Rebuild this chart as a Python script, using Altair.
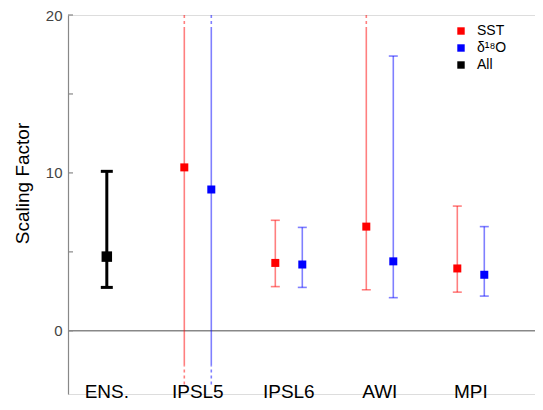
import altair as alt
import pandas as pd

# ---- data ----
groups = ["ENS.", "IPSL5", "IPSL5", "IPSL6", "IPSL6", "AWI", "AWI", "MPI", "MPI"]
series = ["All", "SST", "δ¹⁸O", "SST", "δ¹⁸O", "SST", "δ¹⁸O", "SST", "δ¹⁸O"]
best = [4.7, 10.35, 8.95, 4.3, 4.2, 6.6, 4.4, 3.95, 3.55]
# None = interval runs off the plotted range (drawn as a dashed continuation)
lower = [2.75, None, None, 2.8, 2.75, 2.6, 2.1, 2.45, 2.2]
upper = [10.1, None, None, 7.0, 6.55, None, 17.4, 7.9, 6.6]

group_order = ["ENS.", "IPSL5", "IPSL6", "AWI", "MPI"]
series_order = ["SST", "δ¹⁸O", "All"]
offset_order = ["SST", "All", "δ¹⁸O"]
colors = ["#ff0000", "#0000ff", "#000000"]
y_ticks_labelled = [0, 10, 20]
y_ticks_all = [0, 5, 10, 15, 20]

Y_MIN, Y_MAX = -4, 20
TOP_BREAK, TOP_END = 19.05, 20.0
BOT_BREAK, BOT_END = -2.2, -3.4

W, H = 467, 379
FONT = "Liberation Sans"

# ---- tables built from the arrays ----
pts = pd.DataFrame({"group": groups, "series": series, "value": best})

seg_rows, dash_rows, cap_rows = [], [], []
for g, s, lo, hi in zip(groups, series, lower, upper):
    lo_s = lo if lo is not None else BOT_BREAK
    hi_s = hi if hi is not None else TOP_BREAK
    seg_rows.append({"group": g, "series": s, "lo": lo_s, "hi": hi_s})
    if lo is None:
        dash_rows.append({"group": g, "series": s, "lo": BOT_END, "hi": BOT_BREAK})
    else:
        cap_rows.append({"group": g, "series": s, "value": lo})
    if hi is None:
        dash_rows.append({"group": g, "series": s, "lo": TOP_BREAK, "hi": TOP_END})
    else:
        cap_rows.append({"group": g, "series": s, "value": hi})

segs = pd.DataFrame(seg_rows)
dashes = pd.DataFrame(dash_rows)
caps = pd.DataFrame(cap_rows)

x_enc = alt.X(
    "group:N",
    scale=alt.Scale(domain=group_order, paddingInner=0.3, paddingOuter=0.216, align=0.177),
    axis=alt.Axis(title=None, ticks=False, domain=False, labelAngle=0,
                  labelFontSize=19, labelColor="#000000", labelPadding=-12, labelFont=FONT),
)
xo_enc = alt.XOffset("series:N", scale=alt.Scale(domain=offset_order, paddingInner=0, paddingOuter=0.86))
y_scale = alt.Scale(domain=[Y_MIN, Y_MAX], nice=False, zero=False)
y_axis = alt.Axis(values=y_ticks_labelled, ticks=False, title="Scaling Factor",
                  titleFontSize=19, titleFontWeight="normal", titleColor="#000000",
                  titleX=-36, titleY=168, labelFontSize=15, labelColor="#444444", labelPadding=6,
                  domainColor="#888888", domainWidth=1.2, grid=False, labelFont=FONT, titleFont=FONT)
color_enc = alt.Color(
    "series:N", scale=alt.Scale(domain=series_order, range=colors),
    legend=alt.Legend(orient="none", legendX=386, legendY=9, title=None,
                      symbolType="square", symbolSize=55, symbolStrokeWidth=0,
                      symbolOpacity=1, labelFontSize=14, labelFont=FONT, labelColor="#000000",
                      rowPadding=3, labelOffset=9, padding=0),
)

is_ens = "datum.series == 'All'"
not_ens = "datum.series != 'All'"

zero_line = alt.Chart(pd.DataFrame({"v": [0]})).mark_rule(color="#888888", strokeWidth=1.5).encode(
    y=alt.Y("v:Q", scale=y_scale, axis=y_axis), x=alt.value(0), x2=alt.value(W)
)
yticks = alt.Chart(pd.DataFrame({"v": y_ticks_all})).mark_rule(color="#888888", strokeWidth=1.2).encode(
    y=alt.Y("v:Q", scale=y_scale, axis=y_axis), x=alt.value(0), x2=alt.value(5)
)

bars = alt.Chart(segs).transform_filter(not_ens).mark_rule(strokeWidth=1.6, opacity=0.5).encode(
    x=x_enc, xOffset=xo_enc, y=alt.Y("lo:Q", scale=y_scale, axis=y_axis), y2="hi:Q", color=color_enc
)
bars_ens = alt.Chart(segs).transform_filter(is_ens).mark_rule(strokeWidth=3, opacity=1).encode(
    x=x_enc, xOffset=xo_enc, y=alt.Y("lo:Q", scale=y_scale, axis=y_axis), y2="hi:Q", color=color_enc
)
dash = alt.Chart(dashes).mark_rule(strokeWidth=1.6, opacity=0.5, strokeDash=[3, 3]).encode(
    x=x_enc, xOffset=xo_enc, y=alt.Y("lo:Q", scale=y_scale, axis=y_axis), y2="hi:Q", color=color_enc
)
cap = alt.Chart(caps).transform_filter(not_ens).mark_tick(thickness=1.6, size=9, opacity=0.5).encode(
    x=x_enc, xOffset=xo_enc, y=alt.Y("value:Q", scale=y_scale, axis=y_axis), color=color_enc
)
cap_ens = alt.Chart(caps).transform_filter(is_ens).mark_tick(thickness=3, size=12, opacity=1).encode(
    x=x_enc, xOffset=xo_enc, y=alt.Y("value:Q", scale=y_scale, axis=y_axis), color=color_enc
)
points = alt.Chart(pts).transform_filter(not_ens).mark_point(shape="square", filled=True, opacity=1, size=64).encode(
    x=x_enc, xOffset=xo_enc, y=alt.Y("value:Q", scale=y_scale, axis=y_axis), color=color_enc
)
points_ens = alt.Chart(pts).transform_filter(is_ens).mark_point(shape="square", filled=True, opacity=1, size=110).encode(
    x=x_enc, xOffset=xo_enc, y=alt.Y("value:Q", scale=y_scale, axis=y_axis), color=color_enc
)

chart = alt.layer(zero_line, yticks, bars, bars_ens, dash, cap, cap_ens, points, points_ens).properties(
    width=W, height=H,
    autosize=alt.AutoSizeParams(type="none"),
    padding={"left": 60, "top": 7, "right": 0, "bottom": 8},
).configure_view(stroke=None).configure(font=FONT)

chart.save("out.html", embed_options={"renderer": "svg", "actions": False})
